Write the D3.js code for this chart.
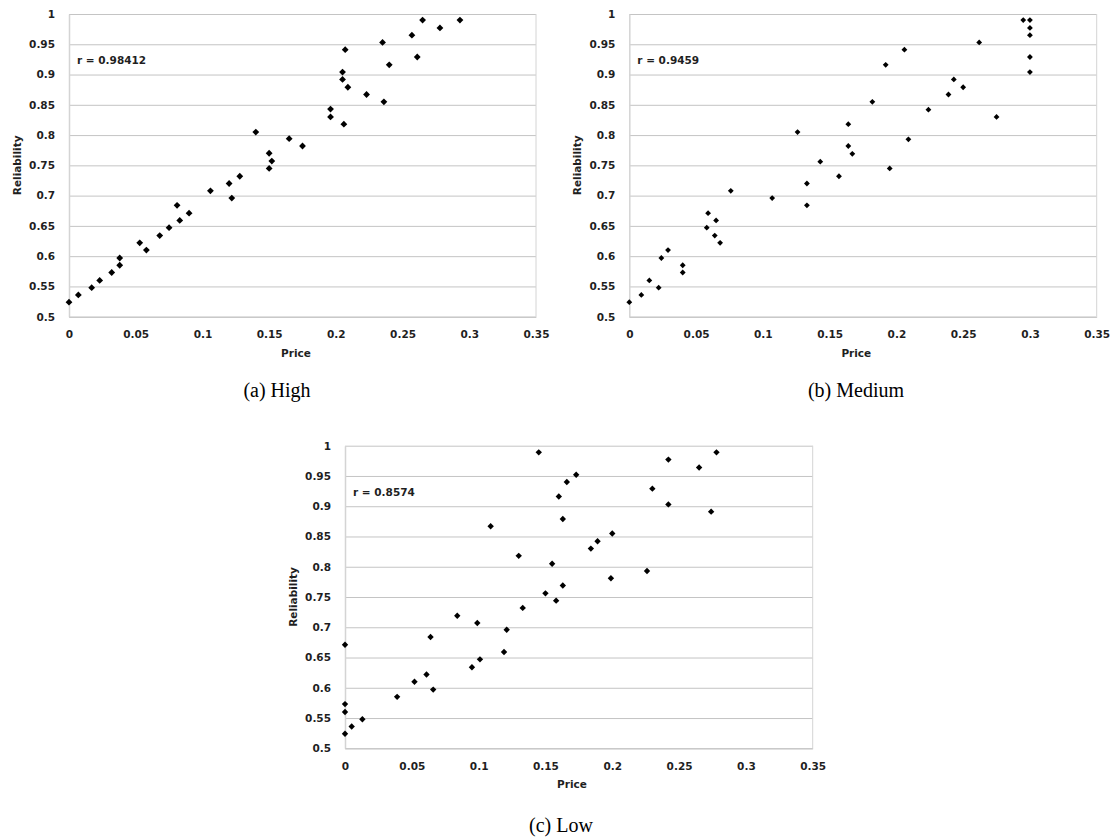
<!DOCTYPE html>
<html>
<head>
<meta charset="utf-8">
<script src="https://cdn.jsdelivr.net/npm/d3@7"></script>
<style>
  html, body { margin: 0; padding: 0; background: #fff; }
  svg { display: block; }
</style>
</head>
<body>
<svg id="chart" width="1120" height="838"></svg>
<script>
// ---- Data ----
const xTicks = [0, 0.05, 0.1, 0.15, 0.2, 0.25, 0.3, 0.35];
const xTickLabels = ["0", "0.05", "0.1", "0.15", "0.2", "0.25", "0.3", "0.35"];
const yTicks = [0.5, 0.55, 0.6, 0.65, 0.7, 0.75, 0.8, 0.85, 0.9, 0.95, 1];
const yTickLabels = ["0.5", "0.55", "0.6", "0.65", "0.7", "0.75", "0.8", "0.85", "0.9", "0.95", "1"];

const panelNames = ["High", "Medium", "Low"];
const panelCaptions = ["(a) High", "(b) Medium", "(c) Low"];
const correlations = ["r = 0.98412", "r = 0.9459", "r = 0.8574"];

const priceHigh = [0, 0.007, 0.017, 0.023, 0.032, 0.038, 0.038, 0.053, 0.058, 0.068, 0.075, 0.081, 0.083, 0.090, 0.106, 0.120, 0.122, 0.128, 0.140, 0.150, 0.152, 0.150, 0.265, 0.278, 0.293, 0.257, 0.235, 0.207, 0.261, 0.240, 0.205, 0.205, 0.209, 0.223, 0.236, 0.196, 0.196, 0.206, 0.165, 0.175];
const reliabilityHigh = [0.524, 0.536, 0.548, 0.560, 0.573, 0.585, 0.597, 0.622, 0.610, 0.634, 0.647, 0.684, 0.659, 0.671, 0.708, 0.720, 0.696, 0.732, 0.805, 0.770, 0.757, 0.745, 0.990, 0.977, 0.990, 0.965, 0.953, 0.941, 0.929, 0.916, 0.904, 0.892, 0.879, 0.867, 0.855, 0.843, 0.830, 0.818, 0.794, 0.782];

const priceMedium = [0, 0.009, 0.015, 0.022, 0.024, 0.029, 0.040, 0.040, 0.058, 0.059, 0.065, 0.064, 0.068, 0.076, 0.107, 0.133, 0.133, 0.157, 0.126, 0.143, 0.295, 0.300, 0.300, 0.300, 0.262, 0.206, 0.300, 0.192, 0.300, 0.243, 0.250, 0.239, 0.182, 0.224, 0.275, 0.164, 0.209, 0.164, 0.167, 0.195];
const reliabilityMedium = [0.524, 0.536, 0.560, 0.548, 0.597, 0.610, 0.585, 0.573, 0.647, 0.671, 0.659, 0.634, 0.622, 0.708, 0.696, 0.720, 0.684, 0.732, 0.805, 0.756, 0.990, 0.990, 0.977, 0.965, 0.953, 0.941, 0.929, 0.916, 0.904, 0.892, 0.879, 0.867, 0.855, 0.842, 0.830, 0.818, 0.793, 0.782, 0.769, 0.745];

const priceLow = [0, 0.005, 0.013, 0, 0, 0, 0.039, 0.052, 0.061, 0.066, 0.064, 0.084, 0.099, 0.095, 0.101, 0.119, 0.121, 0.133, 0.145, 0.109, 0.130, 0.155, 0.150, 0.158, 0.160, 0.278, 0.242, 0.265, 0.173, 0.166, 0.230, 0.242, 0.274, 0.163, 0.200, 0.189, 0.184, 0.226, 0.199, 0.163];
const reliabilityLow = [0.524, 0.536, 0.548, 0.560, 0.573, 0.671, 0.585, 0.610, 0.622, 0.597, 0.684, 0.719, 0.707, 0.634, 0.647, 0.659, 0.696, 0.732, 0.989, 0.867, 0.818, 0.805, 0.756, 0.744, 0.916, 0.989, 0.977, 0.964, 0.952, 0.940, 0.929, 0.903, 0.891, 0.879, 0.855, 0.842, 0.830, 0.793, 0.781, 0.769];

const prices = [priceHigh, priceMedium, priceLow];
const reliabilities = [reliabilityHigh, reliabilityMedium, reliabilityLow];

// ---- Layout ----
const panelBoxes = [
  { left: 69, right: 536, top: 14, bottom: 316.7, marker: 3.4 },
  { left: 629.3, right: 1096.7, top: 14, bottom: 316.7, marker: 2.9 },
  { left: 345, right: 812.7, top: 445.7, bottom: 748.3, marker: 3.2 }
];
const captionPos = [ { x: 277, y: 397 }, { x: 856, y: 397 }, { x: 561, y: 832 } ];

const svg = d3.select("#chart");
svg.append("rect").attr("width", 1120).attr("height", 838).attr("fill", "#fff");

const tickFont = "'DejaVu Sans', sans-serif";
const textColor = "#1f1f1f";

const squareDiamond = {
  draw(context, size) {
    const r = Math.sqrt(size / 2);
    context.moveTo(0, -r);
    context.lineTo(r, 0);
    context.lineTo(0, r);
    context.lineTo(-r, 0);
    context.closePath();
  }
};

panelBoxes.forEach((box, i) => {
  const x = d3.scaleLinear().domain([0, 0.35]).range([box.left, box.right]);
  const y = d3.scaleLinear().domain([0.5, 1]).range([box.bottom, box.top]);
  const g = svg.append("g").attr("class", "panel-" + panelNames[i]);

  // horizontal gridlines via axis
  const grid = g.append("g")
    .attr("transform", `translate(${box.left},0)`)
    .call(d3.axisLeft(y).tickValues(yTicks).tickSize(-(box.right - box.left)).tickFormat(""));
  grid.select(".domain").remove();
  grid.selectAll(".tick line").attr("stroke", "#c4c4c4").attr("stroke-width", 1);

  // y axis labels
  const yAxis = g.append("g")
    .attr("transform", `translate(${box.left},0)`)
    .call(d3.axisLeft(y).tickValues(yTicks).tickSize(0).tickPadding(14)
      .tickFormat((d, k) => yTickLabels[k]));
  yAxis.select(".domain").attr("stroke", "#d4d4d4").attr("stroke-width", 1.5);
  yAxis.selectAll("text")
    .attr("font-family", tickFont).attr("font-weight", "bold")
    .attr("font-size", "10.5px").attr("fill", textColor);

  // x axis labels
  const xAxis = g.append("g")
    .attr("transform", `translate(0,${box.bottom})`)
    .call(d3.axisBottom(x).tickValues(xTicks).tickSize(0).tickPadding(14)
      .tickFormat((d, k) => xTickLabels[k]));
  xAxis.select(".domain").attr("stroke", "#c4c4c4").attr("stroke-width", 1);
  xAxis.selectAll("text")
    .attr("font-family", tickFont).attr("font-weight", "bold")
    .attr("font-size", "10.5px").attr("fill", textColor);

  // right border of plot area
  g.append("line")
    .attr("x1", box.right).attr("x2", box.right)
    .attr("y1", box.top).attr("y2", box.bottom)
    .attr("stroke", "#d4d4d4").attr("stroke-width", 1);

  // axis titles
  g.append("text")
    .attr("transform", `translate(${box.left - 48},${(box.top + box.bottom) / 2}) rotate(-90)`)
    .attr("text-anchor", "middle")
    .attr("font-family", tickFont).attr("font-weight", "bold")
    .attr("font-size", "10.5px").attr("fill", textColor)
    .text("Reliability");
  g.append("text")
    .attr("x", box.left + 227).attr("y", box.bottom + 40)
    .attr("text-anchor", "middle")
    .attr("font-family", tickFont).attr("font-weight", "bold")
    .attr("font-size", "10.5px").attr("fill", textColor)
    .text("Price");

  // correlation annotation
  g.append("text")
    .attr("x", box.left + 8).attr("y", box.top + 50)
    .attr("font-family", tickFont).attr("font-weight", "bold")
    .attr("font-size", "10.5px").attr("fill", textColor)
    .text(correlations[i]);

  // points
  const pts = prices[i].map((p, k) => ({ p, r: reliabilities[i][k] }));
  const sym = d3.symbol().type(squareDiamond).size(2 * box.marker * box.marker);
  g.append("g").selectAll("path").data(pts).join("path")
    .attr("transform", d => `translate(${x(d.p)},${y(d.r)})`)
    .attr("d", sym)
    .attr("fill", "#000");

  // caption
  svg.append("text")
    .attr("x", captionPos[i].x).attr("y", captionPos[i].y)
    .attr("text-anchor", "middle")
    .attr("font-family", "'Liberation Serif', 'Times New Roman', serif")
    .attr("font-size", "20px").attr("fill", "#000")
    .text(panelCaptions[i]);
});
</script>
</body>
</html>
